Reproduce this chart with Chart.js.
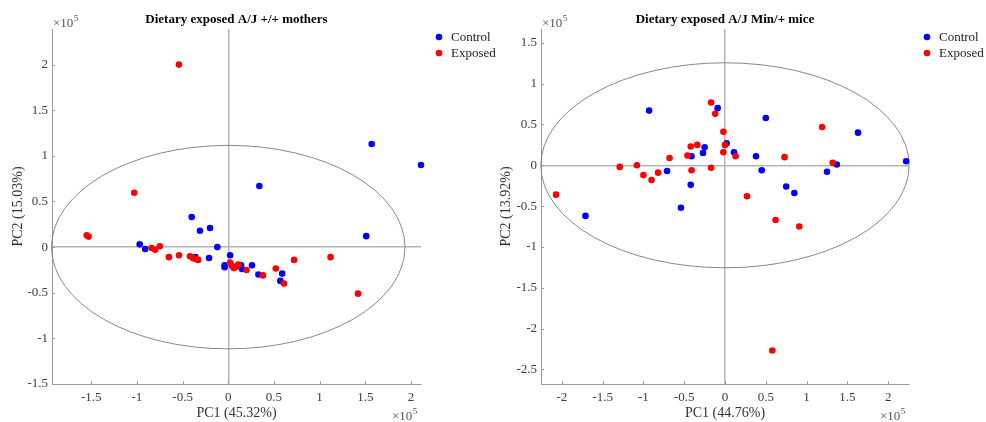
<!DOCTYPE html>
<html>
<head>
<meta charset="utf-8">
<script src="https://cdn.jsdelivr.net/npm/chart.js"></script>
<style>
  body { margin: 0; background: #fff; }
  #wrap { position: relative; width: 986px; height: 422px; }
  canvas { position: absolute; top: 0; }
</style>
</head>
<body>
<div id="wrap">
  <canvas id="mothers" width="497" height="422" style="left:0"></canvas>
  <canvas id="mice" width="489" height="422" style="left:497px"></canvas>
</div>
<script>
// PCA scores, in units of 1e5

// A/J +/+ mothers
const mothersControlX = [1.57, 2.11, 0.34, 1.51, -0.40, -0.31, -0.20, -0.12, -0.97, -0.91, -0.36, -0.21, 0.02, -0.04, -0.04, 0.15, 0.14, 0.26, 0.33, 0.59, 0.57];
const mothersControlY = [1.13, 0.90, 0.67, 0.12, 0.33, 0.18, 0.21, 0.00, 0.03, -0.02, -0.11, -0.12, -0.09, -0.20, -0.22, -0.24, -0.20, -0.20, -0.30, -0.29, -0.37];
const mothersExposedX = [-0.54, -1.03, -1.55, -1.53, -0.84, -0.80, -0.75, -0.65, -0.54, -0.42, -0.39, -0.36, -0.33, 0.02, 0.06, 0.09, 0.11, 0.04, 0.20, 0.38, 0.52, 0.61, 0.72, 1.12, 1.42];
const mothersExposedY = [2.00, 0.595, 0.13, 0.115, -0.01, -0.03, 0.01, -0.11, -0.09, -0.10, -0.12, -0.13, -0.14, -0.17, -0.23, -0.215, -0.19, -0.205, -0.25, -0.31, -0.235, -0.40, -0.14, -0.11, -0.51];
const mothersXTicks = [-1.5, -1, -0.5, 0, 0.5, 1, 1.5, 2];
const mothersYTicks = [-1.5, -1, -0.5, 0, 0.5, 1, 1.5, 2];

// A/J Min/+ mice
const miceControlX = [-1.71, -0.93, -0.71, -0.54, -0.42, -0.41, -0.27, -0.25, -0.09, 0.02, 0.11, 0.38, 0.45, 0.50, 0.75, 0.85, 1.25, 1.37, 1.63, 2.22];
const miceControlY = [-0.62, 0.67, -0.07, -0.52, -0.24, 0.11, 0.15, 0.22, 0.70, 0.27, 0.16, 0.11, -0.06, 0.58, -0.26, -0.34, -0.08, 0.01, 0.40, 0.05];
const miceExposedX = [-2.07, -1.29, -1.08, -1.00, -0.90, -0.82, -0.68, -0.46, -0.42, -0.34, -0.41, -0.17, -0.12, -0.17, -0.02, 0.00, -0.02, 0.13, 0.27, 0.62, 0.73, 0.91, 1.19, 1.32, 0.58];
const miceExposedY = [-0.36, -0.02, 0.00, -0.12, -0.18, -0.09, 0.09, 0.12, 0.23, 0.25, -0.06, 0.77, 0.63, -0.03, 0.41, 0.25, 0.16, 0.11, -0.38, -0.67, 0.10, -0.75, 0.47, 0.03, -2.27];
const miceXTicks = [-2, -1.5, -1, -0.5, 0, 0.5, 1, 1.5, 2];
const miceYTicks = [-2.5, -2, -1.5, -1, -0.5, 0, 0.5, 1, 1.5];

const SERIF = 'Liberation Serif';
const AXIS_GRAY = '#9a9a9a';

// confidence ellipse, inward ticks, title, legend and x10^5 notes
const decor = {
  id: 'decor',
  beforeDatasetsDraw(chart, args, o) {
    const {ctx, chartArea: a, scales: {x, y}} = chart;
    const cx = x.getPixelForValue(0), cy = y.getPixelForValue(0);
    const rx = x.getPixelForValue(o.ellipse[0]) - cx;
    const ry = cy - y.getPixelForValue(o.ellipse[1]);
    ctx.save();
    ctx.beginPath();
    ctx.rect(a.left - 1, a.top, a.width + 2, a.height);
    ctx.clip();
    ctx.beginPath();
    ctx.ellipse(cx, cy, rx, ry, 0, 0, Math.PI * 2);
    ctx.strokeStyle = '#7a7a7a';
    ctx.lineWidth = 0.9;
    ctx.stroke();
    ctx.restore();
  },
  afterDraw(chart, args, o) {
    const {ctx, chartArea: a, scales: {x, y}} = chart;
    ctx.save();
    // ticks pointing into the plot
    ctx.strokeStyle = AXIS_GRAY;
    ctx.lineWidth = 1;
    ctx.beginPath();
    x.ticks.forEach(t => {
      const px = Math.round(x.getPixelForValue(t.value)) + 0.5;
      ctx.moveTo(px, a.bottom);
      ctx.lineTo(px, a.bottom - 3);
    });
    y.ticks.forEach(t => {
      const py = Math.round(y.getPixelForValue(t.value)) + 0.5;
      ctx.moveTo(a.left, py);
      ctx.lineTo(a.left + 3, py);
    });
    ctx.stroke();

    // title
    ctx.fillStyle = '#000';
    ctx.font = 'bold 13px "' + SERIF + '"';
    ctx.textAlign = 'center';
    ctx.textBaseline = 'middle';
    ctx.fillText(o.title, (a.left + a.right) / 2, 20);

    // exponent notes
    const expNote = (left, base) => {
      ctx.fillStyle = '#555';
      ctx.textAlign = 'left';
      ctx.textBaseline = 'alphabetic';
      ctx.font = '13px "' + SERIF + '"';
      ctx.fillText('\u00d710', left, base);
      const w = ctx.measureText('\u00d710').width;
      ctx.font = '9px "' + SERIF + '"';
      ctx.fillText('5', left + w + 0.5, base - 6);
    };
    expNote(a.left + 1, 27);
    expNote(a.right - 29, 420);

    // legend
    ctx.font = '13px "' + SERIF + '"';
    ctx.textBaseline = 'middle';
    chart.data.datasets.forEach((ds, i) => {
      const ly = 37 + i * 16;
      ctx.fillStyle = ds.backgroundColor;
      ctx.beginPath();
      ctx.arc(a.right + 18, ly, 3.3, 0, Math.PI * 2);
      ctx.fill();
      ctx.fillStyle = '#222';
      ctx.fillText(ds.label, a.right + 30, ly + 1);
    });
    ctx.restore();
  }
};

function pairUp(xs, ys) {
  return xs.map((v, i) => ({x: v, y: ys[i]}));
}

function pcaPanel(id, p) {
  const tickFont = {family: SERIF, size: 13};
  const titleFont = {family: SERIF, size: 14};
  const zeroLine = c => (c.tick && c.tick.value === 0) ? '#b6b6b6' : 'rgba(0,0,0,0)';
  return new Chart(document.getElementById(id), {
    type: 'scatter',
    data: {
      datasets: [
        {label: 'Control', data: pairUp(p.cx, p.cy), backgroundColor: '#0000ff', order: 1, clip: false},
        {label: 'Exposed', data: pairUp(p.ex, p.ey), backgroundColor: '#ff0000', order: 0, clip: false}
      ]
    },
    options: {
      responsive: false,
      animation: false,
      layout: {padding: {top: 29, right: p.padRight, left: 0, bottom: 0}},
      elements: {point: {radius: 3.3, hoverRadius: 3.3, borderWidth: 0}},
      plugins: {
        legend: {display: false},
        tooltip: {enabled: false},
        decor: {title: p.title, ellipse: p.ellipse}
      },
      scales: {
        x: {
          type: 'linear',
          min: p.xMin, max: p.xMax,
          afterBuildTicks: s => { s.ticks = p.xTicks.map(v => ({value: v})); },
          afterFit: s => { s.height = 38; },
          grid: {color: zeroLine, lineWidth: 1.5, drawTicks: false},
          border: {color: AXIS_GRAY, width: 1},
          ticks: {font: tickFont, color: '#3c3c3c', padding: 6, maxRotation: 0, callback: v => String(v)},
          title: {display: true, text: p.xTitle, font: titleFont, color: '#333', padding: 0}
        },
        y: {
          type: 'linear',
          min: p.yMin, max: p.yMax,
          afterBuildTicks: s => { s.ticks = p.yTicks.map(v => ({value: v})); },
          afterFit: s => { s.width = p.yWidth; },
          grid: {color: zeroLine, lineWidth: 1.5, drawTicks: false},
          border: {color: AXIS_GRAY, width: 1},
          ticks: {font: tickFont, color: '#3c3c3c', padding: 4, callback: v => String(v)},
          title: {display: true, text: p.yTitle, font: titleFont, color: '#333', padding: {top: p.yTitlePad, bottom: 0}}
        }
      }
    },
    plugins: [decor]
  });
}

pcaPanel('mothers', {
  title: 'Dietary exposed A/J +/+ mothers',
  cx: mothersControlX, cy: mothersControlY,
  ex: mothersExposedX, ey: mothersExposedY,
  xTicks: mothersXTicks, yTicks: mothersYTicks,
  xMin: -1.93, xMax: 2.11, yMin: -1.5, yMax: 2.39,
  ellipse: [1.935, 1.115],
  xTitle: 'PC1 (45.32%)', yTitle: 'PC2 (15.03%)',
  yWidth: 52, padRight: 76, yTitlePad: 10
});

pcaPanel('mice', {
  title: 'Dietary exposed A/J Min/+ mice',
  cx: miceControlX, cy: miceControlY,
  ex: miceExposedX, ey: miceExposedY,
  xTicks: miceXTicks, yTicks: miceYTicks,
  xMin: -2.255, xMax: 2.255, yMin: -2.68, yMax: 1.67,
  ellipse: [2.257, 1.256],
  xTitle: 'PC1 (44.76%)', yTitle: 'PC2 (13.92%)',
  yWidth: 44, padRight: 77, yTitlePad: 1
});
</script>
</body>
</html>
